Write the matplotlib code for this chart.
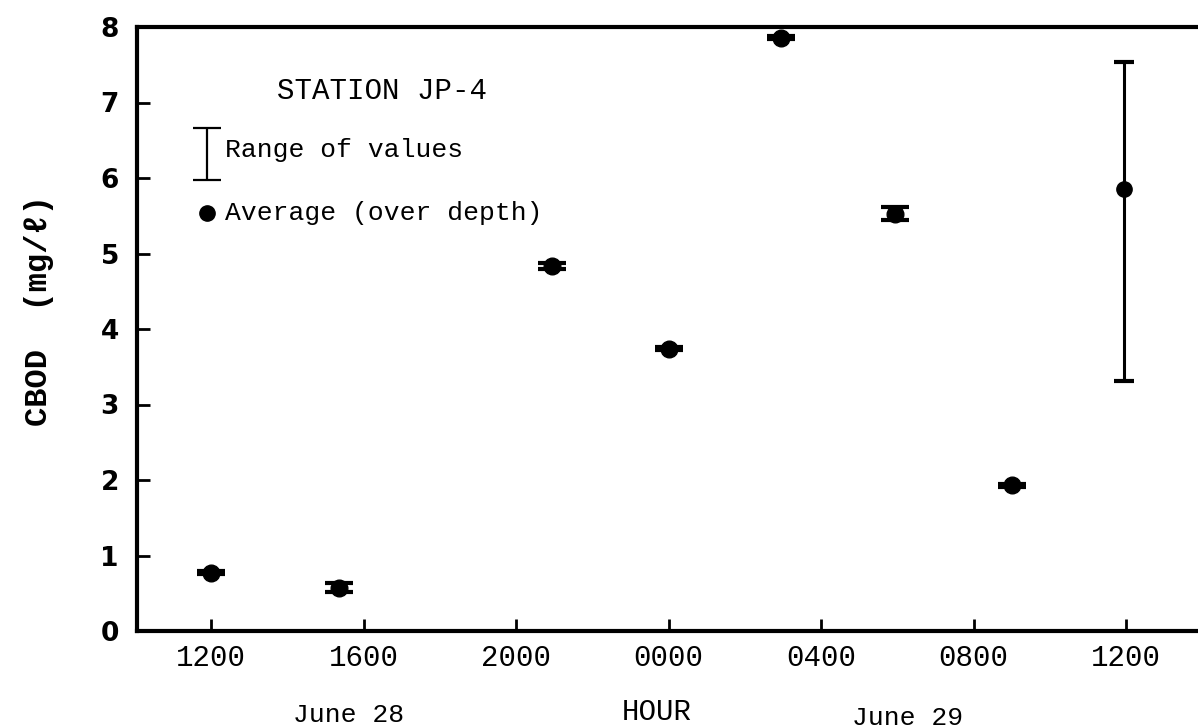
import matplotlib
matplotlib.use("Agg")
import matplotlib.pyplot as plt
import numpy as np

# Data (hours since 0000 June 28)
hours = [12.0, 15.35, 20.95, 24.0, 26.95, 29.95, 33.0, 35.95]
cbod_avg = [0.77, 0.57, 4.83, 3.74, 7.86, 5.52, 1.93, 5.85]
cbod_min = [0.75, 0.52, 4.79, 3.72, 7.84, 5.44, 1.91, 3.31]
cbod_max = [0.79, 0.64, 4.87, 3.76, 7.88, 5.62, 1.95, 7.54]

xtick_pos = [12, 16, 20, 24, 28, 32, 36]
xtick_labels = ["1200", "1600", "2000", "0000", "0400", "0800", "1200"]
ytick_pos = [0, 1, 2, 3, 4, 5, 6, 7, 8]

mono = ["Liberation Mono", "DejaVu Sans"]

W, H = 1198, 728
fig = plt.figure(figsize=(W / 100, H / 100), dpi=100)
ax = fig.add_axes([137 / W, 1 - 631 / H, 1 - 137 / W + 0.01, (631 - 27) / H])

avg = np.array(cbod_avg)
lo = avg - np.array(cbod_min)
hi = np.array(cbod_max) - avg
small = [0, 1, 2, 3, 4, 5, 6]
big = [7]
ax.errorbar([hours[i] for i in small], avg[small], yerr=[lo[small], hi[small]], fmt='o',
            color='black', markersize=12, ecolor='black', elinewidth=2.5, capsize=10,
            capthick=3, zorder=3)
ax.errorbar([hours[i] for i in big], avg[big], yerr=[lo[big], hi[big]], fmt='o',
            color='black', markersize=11, ecolor='black', elinewidth=2.2, capsize=7,
            capthick=3, zorder=3)

ax.set_xlim(10.055, 38.2)
ax.set_ylim(0, 8)
ax.set_xticks(xtick_pos)
ax.set_xticklabels(xtick_labels, fontfamily=mono, fontsize=21)
ax.set_yticks(ytick_pos)
ax.set_yticklabels([str(v) for v in ytick_pos], fontfamily="DejaVu Sans", fontsize=19,
                   fontweight='bold')
ax.tick_params(axis='x', direction='in', length=9, width=2, pad=9)
ax.tick_params(axis='y', direction='in', length=9, width=2, pad=13)

for side in ['left', 'bottom', 'top']:
    ax.spines[side].set_linewidth(3)
ax.spines['right'].set_visible(False)

ax.set_ylabel("CBOD  (mg/ℓ)", fontfamily=mono, fontsize=23, fontweight='bold')
ax.yaxis.set_label_coords(-(137 - 54) / (W - 137 + 12), 0.531)

# legend-like annotations (baseline-anchored)
ax.text(13.73, 7.05, "STATION JP-4", fontfamily=mono, fontsize=21, va='baseline', ha='left')
ax.errorbar([11.9], [6.315], yerr=[[0.345], [0.345]], fmt='none', ecolor='black',
            elinewidth=1.6, capsize=10, capthick=1.6)
ax.text(12.37, 6.28, "Range of values", fontfamily=mono, fontsize=19, va='baseline', ha='left')
ax.plot([11.9], [5.54], 'o', color='black', markersize=11)
ax.text(12.37, 5.44, "Average (over depth)", fontfamily=mono, fontsize=19, va='baseline', ha='left')

# x-axis captions
fig.text(293 / W, 1 - 722 / H, "June 28", fontfamily=mono, fontsize=19, ha='left', va='baseline')
fig.text(622 / W, 1 - 720 / H, "HOUR", fontfamily=mono, fontsize=21, ha='left', va='baseline')
fig.text(852 / W, 1 - 725 / H, "June 29", fontfamily=mono, fontsize=19, ha='left', va='baseline')

fig.savefig("out.png", dpi=100)
